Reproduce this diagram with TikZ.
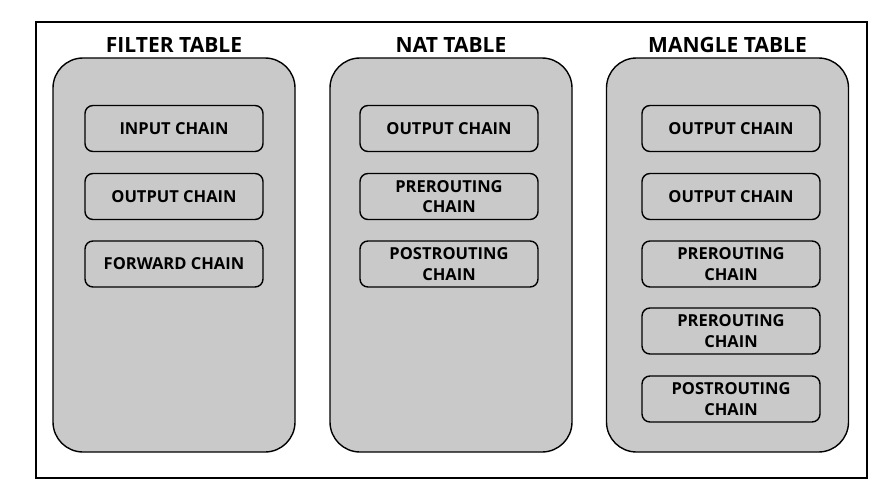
\documentclass[tikz,border=0pt]{standalone}
\usepackage{fontspec}
\setmainfont{Open Sans}
\begin{document}
\begin{tikzpicture}[x=1pt, y=-1pt,
    tablebox/.style={rectangle, draw, line width=1.4pt, fill=gray!42, rounded corners=30pt, minimum width=242pt, minimum height=394pt},
    title/.style={font=\fontsize{21}{25}\selectfont\bfseries},
    chain/.style={rectangle, draw, line width=1.4pt, fill=gray!42, rounded corners=8pt, minimum width=178pt, minimum height=46pt, align=center, inner sep=0pt, font=\fontsize{16.5}{20.5}\selectfont\bfseries}
]
\useasboundingbox (0,0) rectangle (885,495);

% Outer frame
\node[draw, line width=2pt, minimum width=831pt, minimum height=456pt, inner sep=0pt] (frame) at (451,250) {};

% Tables
\node[tablebox] (filter) at (174,255) {};
\node[tablebox] (nat) at (451,255) {};
\node[tablebox] (mangle) at (727.5,255) {};

% Titles
\node[title] (filtertitle) at (174,45) {FILTER TABLE};
\node[title] (nattitle) at (451,45) {NAT TABLE};
\node[title] (mangletitle) at (727.5,45) {MANGLE TABLE};

% Filter chains
\node[chain] (finput) at (174,128.5) {INPUT CHAIN};
\node[chain] (foutput) at (174,196.5) {OUTPUT CHAIN};
\node[chain] (fforward) at (174,264) {FORWARD CHAIN};

% NAT chains
\node[chain] (noutput) at (449,128.5) {OUTPUT CHAIN};
\node[chain] (nprerouting) at (449,196.5) {PREROUTING\\CHAIN};
\node[chain] (npostrouting) at (449,264) {POSTROUTING\\CHAIN};

% Mangle chains
\node[chain] (moutputa) at (731,128.5) {OUTPUT CHAIN};
\node[chain] (moutputb) at (731,196.5) {OUTPUT CHAIN};
\node[chain] (mpreroutinga) at (731,264) {PREROUTING\\CHAIN};
\node[chain] (mpreroutingb) at (731,331) {PREROUTING\\CHAIN};
\node[chain] (mpostrouting) at (731,399) {POSTROUTING\\CHAIN};

\end{tikzpicture}
\end{document}
